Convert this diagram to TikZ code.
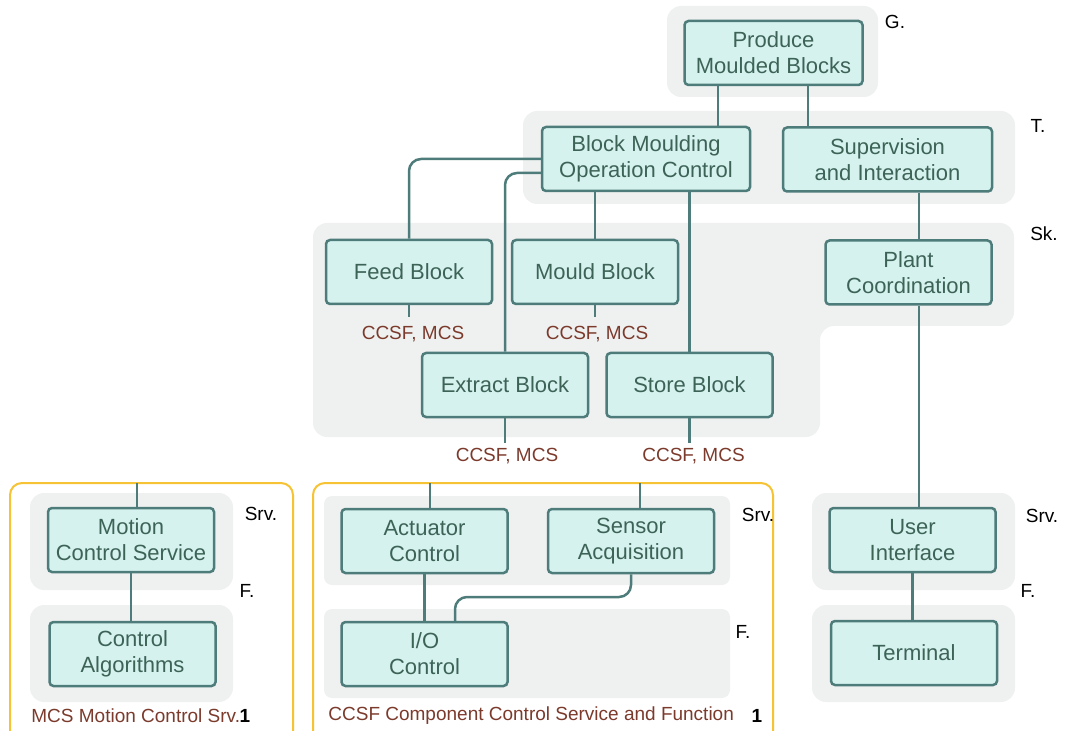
\documentclass[tikz,border=0pt]{standalone}
\usepackage{fontspec}
\setmainfont{Liberation Sans}

\definecolor{boxfill}{HTML}{D5F2EF}
\definecolor{boxline}{HTML}{4D7C7A}
\definecolor{boxtext}{HTML}{3D6356}
\definecolor{layerbg}{HTML}{EFF1F0}
\definecolor{tagtext}{HTML}{7B3A2C}
\definecolor{pkgline}{HTML}{F6C335}

\begin{document}
\begin{tikzpicture}[x=0.5pt, y=-0.5pt,
  blk/.style={draw=boxline, fill=boxfill, line width=1.25pt, rounded corners=2pt,
    align=center, minimum width=83pt, minimum height=32pt, inner sep=0pt,
    text=boxtext, font=\fontsize{11}{13}\selectfont},
  link/.style={draw=boxline, line width=1.25pt},
  layer/.style={fill=layerbg, rounded corners=7pt},
  pkg/.style={draw=pkgline, line width=1pt, rounded corners=6pt},
  lvl/.style={font=\fontsize{9.5}{11}\selectfont, inner sep=0pt},
  tag/.style={font=\fontsize{9.5}{11}\selectfont, text=tagtext, inner sep=0pt},
  pkgno/.style={font=\fontsize{9.5}{11}\selectfont\bfseries, inner sep=0pt}]

\clip (0,0) rectangle (1068,731);

% component packages
\draw[pkg] (10,483) rectangle (293,745);
\draw[pkg] (313,483) rectangle (773,745);

% layers
\fill[layer] (667,6) rectangle (878,97);
\fill[layer] (523,111) rectangle (1015,204);
\fill[layer] (313,223) -- (1014,223) -- (1014,326) -- (820,326) -- (820,437)
  -- (313,437) -- cycle;
\fill[layer] (812,493) rectangle (1015,590);
\fill[layer] (812,605) rectangle (1015,702);
\fill[layer] (30,493) rectangle (233,590);
\fill[layer] (30,605) rectangle (233,702);
\fill[layer, rounded corners=4pt] (324,496) rectangle (730,585);
\fill[layer, rounded corners=4pt] (324,609) rectangle (730,698);

% blocks
\node[blk, minimum width=89pt] (prod) at (773.5,53) {Produce\\Moulded Blocks};
\node[blk, minimum width=104pt] (bmoc) at (646,159) {Block Moulding\\Operation Control};
\node[blk, minimum width=104.5pt] (sup) at (887.5,159.5) {Supervision\\and Interaction};
\node[blk] (feed) at (409,272) {Feed Block};
\node[blk] (mould) at (595,272) {Mould Block};
\node[blk] (extract) at (505,385) {Extract Block};
\node[blk] (store) at (689.5,385) {Store Block};
\node[blk] (plant) at (908.5,272.5) {Plant\\Coordination};
\node[blk] (ui) at (912.5,540) {User\\Interface};
\node[blk] (term) at (914,653) {Terminal};
\node[blk] (mcs) at (131,540) {Motion\\Control Service};
\node[blk] (calg) at (132.5,654) {Control\\Algorithms};
\node[blk] (act) at (424.5,541) {Actuator\\Control};
\node[blk] (sens) at (631,541) {Sensor\\Acquisition};
\node[blk] (io) at (424.5,654) {I/O\\Control};

% taps
\path
(718,0) coordinate (tapl)
(808,0) coordinate (tapr)
(919,0) coordinate (tapu)
(137,483) coordinate (mcsin)
(430,483) coordinate (actin)
(640,483) coordinate (sensin)
(455,597) coordinate (jog)
;

% links
\draw[link] (prod.south -| tapl) -- (bmoc.north -| tapl);
\draw[link] (prod.south -| tapr) -- (sup.north -| tapr);
\draw[link, rounded corners=6pt] (bmoc.west) -| (feed.north);
\draw[link, rounded corners=6pt] ([yshift=-7pt]bmoc.west) -| (extract.north);
\draw[link] (bmoc.south -| mould.north) -- (mould.north);
\draw[link] (bmoc.south -| store.north) -- (store.north);
\draw[link] (sup.south -| tapu) -- (plant.north -| tapu);
\draw[link] (plant.south -| tapu) -- (ui.north -| tapu);
\draw[link] (ui.south) -- (ui.south |- term.north);
\draw[link] (mcsin) -- (mcsin |- mcs.north);
\draw[link] (mcs.south) -- (mcs.south |- calg.north);
\draw[link] (actin) -- (actin |- act.north);
\draw[link] (sensin) -- (sensin |- sens.north);
\draw[link] (act.south) -- (act.south |- io.north);
\draw[link, rounded corners=6pt] (sens.south) |- (jog) -- (jog |- io.north);

% users of each block
\draw[link] (feed.south) -- ++(0,12) node[tag, below=4pt, xshift=2pt] (feedtag) {CCSF, MCS};
\draw[link] (mould.south) -- ++(0,12) node[tag, below=4pt, xshift=1pt] (mouldtag) {CCSF, MCS};
\draw[link] (extract.south) -- ++(0,25) node[tag, below=2pt, xshift=1pt] (extracttag) {CCSF, MCS};
\draw[link] (store.south) -- ++(0,25) node[tag, below=2pt, xshift=2pt] (storetag) {CCSF, MCS};

% layer names
\node[lvl] (lg) at (895,22) {G.};
\node[lvl] (lt) at (1038,126) {T.};
\node[lvl] (lsk) at (1044,234) {Sk.};
\node[lvl] (lsrv) at (1042,516) {Srv.};
\node[lvl] (lf) at (1028,591) {F.};
\node[lvl] (msrv) at (261,514) {Srv.};
\node[lvl] (mf) at (247,591) {F.};
\node[lvl] (csrv) at (758,515) {Srv.};
\node[lvl] (cf) at (743,632) {F.};

% package captions
\node[tag, anchor=west] (mcscap) at (31,716) {MCS Motion Control Srv.};
\node[pkgno] (mcsno) at (245,716) {1};
\node[tag, anchor=west] (ccsfcap) at (328,716) {CCSF Component Control Service and Function};
\node[pkgno] (ccsfno) at (757,716) {1};

\end{tikzpicture}
\end{document}
